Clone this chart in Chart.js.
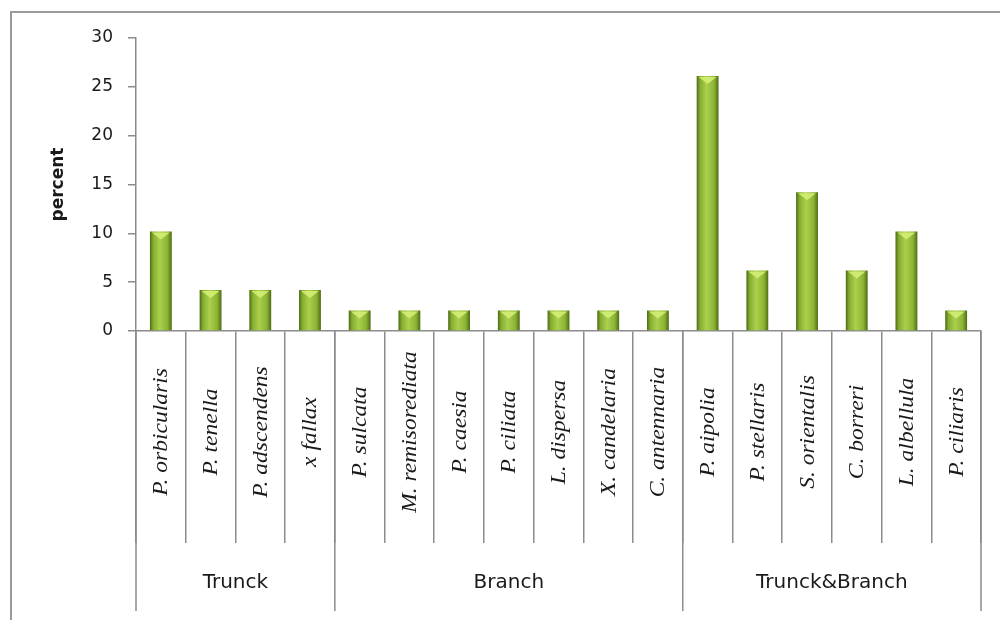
<!DOCTYPE html>
<html>
<head>
    <title>Percent by species</title>
    <script src="https://cdn.jsdelivr.net/npm/chart.js@4.4.1/dist/chart.umd.min.js"></script>
    <style type="text/css">
      body { margin: 0; background: #fff; overflow: hidden; }
      #frame {
        position: absolute; left: 10px; top: 11px;
        width: 988px; height: 607px;
        border-top: 2px solid #9a9a9a; border-left: 2px solid #9a9a9a;
      }
      #chart-container { position: absolute; left: 0; top: 0; width: 1000px; height: 620px; }
    </style>
</head>
<body>
  <div id="frame"></div>
  <div id="chart-container">
    <canvas id="mycanvas" width="1000" height="620"></canvas>
  </div>
<script>
var species = ['P. orbicularis', 'P. tenella', 'P. adscendens', 'x fallax',
  'P. sulcata', 'M. remisorediata', 'P. caesia', 'P. ciliata', 'L. dispersa', 'X. candelaria', 'C. antennaria',
  'P. aipolia', 'P. stellaris', 'S. orientalis', 'C. borreri', 'L. albellula', 'P. ciliaris'];
var percent = [10.2, 4.2, 4.2, 4.2,
  2.1, 2.1, 2.1, 2.1, 2.1, 2.1, 2.1,
  26.1, 6.2, 14.2, 6.2, 10.2, 2.1];
var groups = ['Trunck', 'Branch', 'Trunck&Branch'];
var groupSizes = [4, 7, 6];
var yMin = 0, yMax = 30, yStep = 5;

var lineColor = '#8c8c8c';
var textColor = '#1a1a1a';
var barPct = 0.44;

function catWidth(xs) {
  return xs.width / species.length;
}

// green bar with dark edges and a light centre
function barFill(ctx) {
  var chart = ctx.chart;
  var xs = chart.scales.x;
  if (!xs || ctx.dataIndex === undefined) return '#8db836';
  var cx = xs.getPixelForValue(ctx.dataIndex);
  var half = catWidth(xs) * barPct / 2;
  if (!isFinite(cx) || !isFinite(half) || half <= 0) return '#8db836';
  var g = chart.ctx.createLinearGradient(cx - half, 0, cx + half, 0);
  g.addColorStop(0, '#4d6a14');
  g.addColorStop(0.15, '#84ad30');
  g.addColorStop(0.45, '#acd04e');
  g.addColorStop(0.8, '#8ab432');
  g.addColorStop(1, '#4f6c16');
  return g;
}

var decor = {
  id: 'decor',
  afterDatasetsDraw: function(chart) {
    var c = chart.ctx;
    var meta = chart.getDatasetMeta(0);
    meta.data.forEach(function(bar) {
      var p = bar.getProps(['x', 'y', 'width'], true);
      var h = p.width / 2;
      c.save();
      c.fillStyle = 'rgba(214, 240, 120, 0.85)';
      c.beginPath();
      c.moveTo(p.x - h + 2, p.y + 1);
      c.lineTo(p.x + h - 2, p.y + 1);
      c.lineTo(p.x, p.y + 8);
      c.closePath();
      c.fill();
      c.restore();
    });
  },
  afterDraw: function(chart) {
    var c = chart.ctx;
    var xs = chart.scales.x;
    var w = catWidth(xs);
    var base = chart.chartArea.bottom;

    // species names, rotated and a bit stretched along the text
    c.save();
    c.fillStyle = textColor;
    c.font = 'italic 21px "Liberation Serif"';
    c.textAlign = 'center';
    c.textBaseline = 'middle';
    species.forEach(function(name, i) {
      var x = xs.getPixelForValue(i);
      c.save();
      c.translate(x + 1, 432);
      c.rotate(-Math.PI / 2);
      c.scale(1.12, 1);
      c.fillText(name, 0, 0);
      c.restore();
    });
    c.restore();

    // group separators and group names
    c.save();
    c.strokeStyle = lineColor;
    c.lineWidth = 1.5;
    c.fillStyle = textColor;
    c.font = '20px "DejaVu Sans"';
    c.textAlign = 'center';
    c.textBaseline = 'middle';
    var start = 0;
    for (var g = 0; g <= groups.length; g++) {
      var x = xs.getPixelForValue(start) - w / 2;
      c.beginPath();
      c.moveTo(x, base);
      c.lineTo(x, 611);
      c.stroke();
      if (g < groups.length) {
        var mid = x + groupSizes[g] * w / 2;
        c.fillText(groups[g], mid, 583);
        start += groupSizes[g];
      }
    }
    c.restore();
  }
};

var ctx = document.getElementById('mycanvas');

var barGraph = new Chart(ctx, {
  type: 'bar',
  data: {
    labels: species,
    datasets: [{
      data: percent,
      backgroundColor: barFill,
      borderWidth: 0,
      barPercentage: barPct,
      categoryPercentage: 1
    }]
  },
  options: {
    responsive: false,
    animation: false,
    layout: { padding: { left: 0, top: 38, right: 19, bottom: 0 } },
    plugins: { legend: { display: false }, tooltip: { enabled: false } },
    scales: {
      x: {
        offset: true,
        ticks: { display: false },
        grid: { offset: true, drawOnChartArea: false, tickLength: 212, color: lineColor, lineWidth: 1.5 },
        border: { display: true, color: lineColor, width: 1.5 },
        afterFit: function(scale) { scale.height = 289; }
      },
      y: {
        min: yMin,
        max: yMax,
        ticks: {
          stepSize: yStep,
          padding: 15,
          color: textColor,
          font: { family: 'DejaVu Sans', size: 17 }
        },
        grid: { drawOnChartArea: false, tickLength: 8, color: lineColor, lineWidth: 1.5 },
        border: { display: true, color: lineColor, width: 1.5 },
        title: {
          display: true,
          text: 'percent',
          color: textColor,
          font: { family: 'DejaVu Sans', size: 17, weight: 'bold' },
          padding: { top: 48, bottom: 0 }
        },
        afterFit: function(scale) { scale.width = 136; }
      }
    }
  },
  plugins: [decor]
});
barGraph.update();
</script>
</body>
</html>
